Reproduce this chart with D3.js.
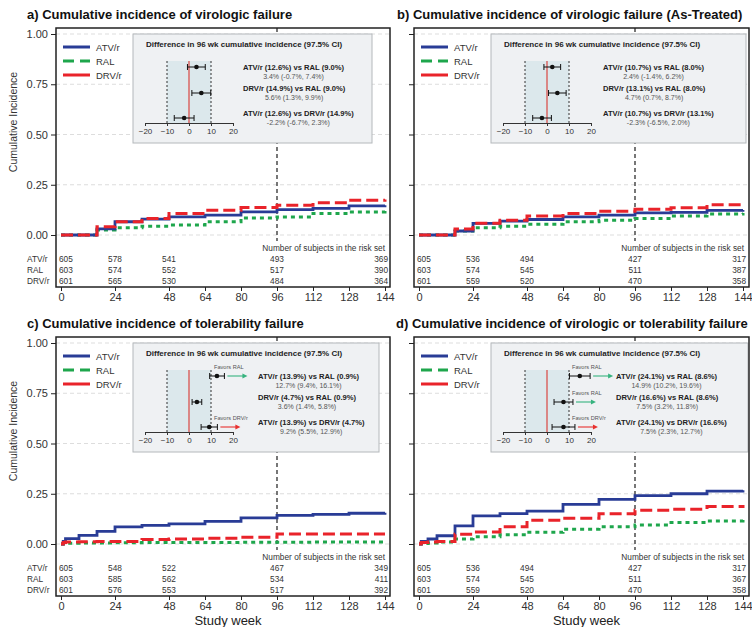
<!DOCTYPE html>
<html>
<head>
<meta charset="utf-8">
<script src="https://cdn.jsdelivr.net/npm/d3@7"></script>
<style>
  body { margin: 0; background: #fff; }
  text { font-family: "Liberation Sans", Arial, sans-serif; }
</style>
</head>
<body>
<div id="chart-area"></div>
<script>
// ---- data ----
var groups = ["ATV/r", "RAL", "DRV/r"];
var weekTicks = [0, 24, 48, 64, 80, 96, 112, 128, 144];
var riskWeeks = [0, 24, 48, 96, 144];
var yTicks = [0, 0.25, 0.5, 0.75, 1];

// panel a) virologic failure
var aWeeks = [0, 16, 24, 36, 48, 64, 80, 96, 112, 128, 144];
var aATV = [0, 0.03, 0.066, 0.079, 0.09, 0.099, 0.115, 0.126, 0.132, 0.145, 0.148];
var aRAL = [0, 0.025, 0.036, 0.044, 0.05, 0.066, 0.085, 0.09, 0.107, 0.115, 0.125];
var aDRV = [0, 0.041, 0.066, 0.082, 0.107, 0.123, 0.137, 0.148, 0.16, 0.173, 0.176];
var aRisk = [[605, 578, 541, 493, 369], [603, 574, 552, 517, 390], [601, 565, 530, 484, 364]];
var aCompare = ["ATV/r (12.6%) vs RAL (9.0%)", "DRV/r (14.9%) vs RAL (9.0%)", "ATV/r (12.6%) vs DRV/r (14.9%)"];
var aEst = [3.4, 5.6, -2.2];
var aLo = [-0.7, 1.3, -6.7];
var aHi = [7.4, 9.9, 2.3];
var aFavors = [null, null, null];

// panel b) virologic failure, as-treated
var bWeeks = [0, 16, 24, 36, 48, 64, 80, 96, 112, 128, 144];
var bATV = [0, 0.02, 0.058, 0.069, 0.077, 0.09, 0.099, 0.11, 0.113, 0.123, 0.125];
var bRAL = [0, 0.02, 0.036, 0.044, 0.053, 0.066, 0.074, 0.082, 0.095, 0.104, 0.11];
var bDRV = [0, 0.03, 0.058, 0.074, 0.094, 0.107, 0.118, 0.128, 0.136, 0.151, 0.16];
var bRisk = [[605, 536, 494, 427, 317], [603, 574, 545, 511, 387], [601, 559, 520, 470, 358]];
var bCompare = ["ATV/r (10.7%) vs RAL (8.0%)", "DRV/r (13.1%) vs RAL (8.0%)", "ATV/r (10.7%) vs DRV/r (13.1%)"];
var bEst = [2.4, 4.7, -2.3];
var bLo = [-1.4, 0.7, -6.5];
var bHi = [6.2, 8.7, 2.0];
var bFavors = [null, null, null];

// panel c) tolerability failure
var cWeeks = [0, 1, 2, 8, 16, 24, 36, 48, 64, 80, 96, 112, 128, 144];
var cATV = [0, 0.013, 0.027, 0.043, 0.063, 0.085, 0.093, 0.1, 0.113, 0.13, 0.142, 0.147, 0.153, 0.155];
var cRAL = [0, 0.003, 0.004, 0.005, 0.005, 0.006, 0.007, 0.008, 0.008, 0.009, 0.009, 0.01, 0.01, 0.01];
var cDRV = [0, 0.008, 0.01, 0.011, 0.012, 0.013, 0.022, 0.025, 0.028, 0.033, 0.05, 0.05, 0.05, 0.05];
var cRisk = [[605, 548, 522, 467, 349], [603, 585, 562, 534, 411], [601, 576, 553, 517, 392]];
var cCompare = ["ATV/r (13.9%) vs RAL (0.9%)", "DRV/r (4.7%) vs RAL (0.9%)", "ATV/r (13.9%) vs DRV/r (4.7%)"];
var cEst = [12.7, 3.6, 9.2];
var cLo = [9.4, 1.4, 5.5];
var cHi = [16.1, 5.8, 12.9];
var cFavors = ["RAL", null, "DRV/r"];

// panel d) virologic or tolerability failure
var dWeeks = [0, 1, 4, 8, 16, 24, 36, 48, 64, 80, 96, 112, 128, 144];
var dATV = [0, 0.013, 0.025, 0.041, 0.09, 0.14, 0.151, 0.164, 0.197, 0.222, 0.241, 0.25, 0.263, 0.268];
var dRAL = [0, 0.003, 0.005, 0.01, 0.025, 0.036, 0.046, 0.058, 0.074, 0.086, 0.095, 0.107, 0.115, 0.132];
var dDRV = [0, 0.008, 0.01, 0.013, 0.049, 0.06, 0.086, 0.118, 0.128, 0.151, 0.168, 0.173, 0.186, 0.194];
var dRisk = [[605, 536, 494, 427, 317], [603, 574, 545, 511, 367], [601, 559, 520, 470, 358]];
var dCompare = ["ATV/r (24.1%) vs RAL (8.6%)", "DRV/r (16.6%) vs RAL (8.6%)", "ATV/r (24.1%) vs DRV/r (16.6%)"];
var dEst = [14.9, 7.5, 7.5];
var dLo = [10.2, 3.2, 2.3];
var dHi = [19.6, 11.8, 12.7];
var dFavors = ["RAL", "RAL", "DRV/r"];

// ---- styles ----
var colors = {"ATV/r": "#293c96", "RAL": "#1ea64c", "DRV/r": "#e9232a"};
var curveDash = {"ATV/r": null, "RAL": "4,4", "DRV/r": "12,5"};
var curveWidth = {"ATV/r": 2.8, "RAL": 3, "DRV/r": 3};
var legendDash = {"ATV/r": null, "RAL": "11,6", "DRV/r": null};
var favorColor = {"RAL": "#36b37e", "DRV/r": "#e8312f"};

var svg = d3.select("#chart-area")
  .append("svg")
    .attr("width", 752)
    .attr("height", 627);

svg.append("rect").attr("width", 752).attr("height", 627).attr("fill", "#fff");

var panels = [
  {title: "a) Cumulative incidence of virologic failure", left: 56, top: 28, right: 390, titleX: 27,
   yLabels: true, studyWeek: false,
   weeks: aWeeks, series: [aATV, aRAL, aDRV], risk: aRisk, compare: aCompare, est: aEst, lo: aLo, hi: aHi, favors: aFavors,
   boxW: 239, labelX: 110},
  {title: "b) Cumulative incidence of virologic failure (As-Treated)", left: 414, top: 28, right: 749, titleX: 397,
   yLabels: false, studyWeek: false,
   weeks: bWeeks, series: [bATV, bRAL, bDRV], risk: bRisk, compare: bCompare, est: bEst, lo: bLo, hi: bHi, favors: bFavors,
   boxW: 255, labelX: 112},
  {title: "c) Cumulative incidence of tolerability failure", left: 56, top: 337, right: 390, titleX: 27,
   yLabels: true, studyWeek: true,
   weeks: cWeeks, series: [cATV, cRAL, cDRV], risk: cRisk, compare: cCompare, est: cEst, lo: cLo, hi: cHi, favors: cFavors,
   boxW: 246, labelX: 125},
  {title: "d) Cumulative incidence of virologic or tolerability failure", left: 414, top: 337, right: 749, titleX: 396,
   yLabels: false, studyWeek: true,
   weeks: dWeeks, series: [dATV, dRAL, dDRV], risk: dRisk, compare: dCompare, est: dEst, lo: dLo, hi: dHi, favors: dFavors,
   boxW: 257, labelX: 125}
];

function pct(v) { return v.toFixed(1) + "%"; }

panels.forEach(function(p) {
  var L = p.left, T = p.top, R = p.right, B = T + 259;
  var g = svg.append("g");

  var x = d3.scaleLinear().domain([0, 144]).range([L + 5, L + 329]);
  var y = d3.scaleLinear().domain([0, 1]).range([T + 207, T + 6]);

  // title
  g.append("text")
    .attr("x", p.titleX).attr("y", T - 9)
    .attr("font-size", "13px").attr("font-weight", "bold").attr("fill", "#111")
    .text(p.title);

  // grid
  g.selectAll(".grid").data(yTicks).enter()
    .append("line")
      .attr("x1", L).attr("x2", R)
      .attr("y1", function(d) { return y(d); })
      .attr("y2", function(d) { return y(d); })
      .attr("stroke", "#d4d4d4").attr("stroke-width", 0.8)
      .attr("stroke-dasharray", "4,3");

  // week 96 reference line
  g.append("line")
    .attr("x1", x(96)).attr("x2", x(96))
    .attr("y1", T).attr("y2", y(0) + 6)
    .attr("stroke", "#555").attr("stroke-width", 1.6)
    .attr("stroke-dasharray", "4,3");

  // step curves (red drawn last, on top)
  var line = d3.line()
    .x(function(d) { return x(d[0]); })
    .y(function(d) { return y(d[1]); })
    .curve(d3.curveStepAfter);

  [1, 0, 2].forEach(function(i) {
    var name = groups[i];
    var pts = p.weeks.map(function(w, k) { return [w, p.series[i][k]]; });
    g.append("path")
      .attr("d", line(pts))
      .attr("fill", "none")
      .attr("stroke", colors[name])
      .attr("stroke-width", curveWidth[name])
      .attr("stroke-dasharray", curveDash[name]);
  });

  // legend
  groups.forEach(function(name, i) {
    var ly = T + 19 + i * 14;
    g.append("line")
      .attr("x1", L + 7).attr("x2", L + 34)
      .attr("y1", ly).attr("y2", ly)
      .attr("stroke", colors[name]).attr("stroke-width", 3)
      .attr("stroke-dasharray", legendDash[name]);
    g.append("text")
      .attr("x", L + 40).attr("y", ly + 3.5)
      .attr("font-size", "9.5px").attr("fill", "#333")
      .text(name);
  });

  // inset with differences at week 96
  var bx = L + 77, by = T + 6, bw = p.boxW, bh = 109;
  var inset = g.append("g");
  inset.append("rect")
    .attr("x", bx).attr("y", by).attr("width", bw).attr("height", bh)
    .attr("fill", "#eff1f3").attr("stroke", "#b4b8bb").attr("stroke-width", 1);
  inset.append("text")
    .attr("x", bx + 13).attr("y", by + 13)
    .attr("font-size", "8px").attr("font-weight", "bold").attr("fill", "#222")
    .text("Difference in 96 wk cumulative incidence (97.5% CI)");

  var xf = d3.scaleLinear().domain([-20, 20]).range([bx + 12, bx + 100]);
  var fTop = by + 27, fAxis = by + 89;
  inset.append("rect")
    .attr("x", xf(-10)).attr("y", fTop)
    .attr("width", xf(10) - xf(-10)).attr("height", fAxis - fTop)
    .attr("fill", "#dce8ec");
  [-10, 10].forEach(function(v) {
    inset.append("line")
      .attr("x1", xf(v)).attr("x2", xf(v)).attr("y1", fTop).attr("y2", fAxis)
      .attr("stroke", "#333").attr("stroke-width", 1).attr("stroke-dasharray", "2,2");
  });
  inset.append("line")
    .attr("x1", xf(0)).attr("x2", xf(0)).attr("y1", fTop).attr("y2", fAxis)
    .attr("stroke", "#d9534f").attr("stroke-width", 1.3);

  var fAxisG = inset.append("g")
    .attr("transform", "translate(0," + fAxis + ")")
    .call(d3.axisBottom(xf).tickValues([-20, -10, 0, 10, 20]).tickSize(3).tickPadding(2));
  fAxisG.select(".domain").attr("stroke", "#333");
  fAxisG.selectAll("line").attr("stroke", "#333");
  fAxisG.selectAll("text").attr("font-size", "8px").attr("fill", "#333")
    .attr("font-family", "'Liberation Sans', Arial, sans-serif");

  var rowY = [by + 33, by + 59, by + 84];
  var boldY = [by + 36, by + 57, by + 82];
  p.est.forEach(function(e, i) {
    var ry = rowY[i];
    inset.append("line")
      .attr("x1", xf(p.lo[i])).attr("x2", xf(p.hi[i])).attr("y1", ry).attr("y2", ry)
      .attr("stroke", "#111").attr("stroke-width", 1);
    [p.lo[i], p.hi[i]].forEach(function(v) {
      inset.append("line")
        .attr("x1", xf(v)).attr("x2", xf(v)).attr("y1", ry - 3).attr("y2", ry + 3)
        .attr("stroke", "#111").attr("stroke-width", 1);
    });
    inset.append("circle")
      .attr("cx", xf(e)).attr("cy", ry).attr("r", 2.3).attr("fill", "#111");

    if (p.favors[i]) {
      var ax0 = xf(p.hi[i]) + 3, ax1 = ax0 + 20;
      inset.append("line")
        .attr("x1", ax0).attr("x2", ax1 - 4).attr("y1", ry).attr("y2", ry)
        .attr("stroke", favorColor[p.favors[i]]).attr("stroke-width", 1.1);
      inset.append("path")
        .attr("d", "M" + ax1 + "," + ry + "L" + (ax1 - 5) + "," + (ry - 2.5) + "L" + (ax1 - 5) + "," + (ry + 2.5) + "Z")
        .attr("fill", favorColor[p.favors[i]]);
      inset.append("text")
        .attr("x", xf(10) + 3).attr("y", ry - 7)
        .attr("font-size", "5.6px").attr("fill", "#555")
        .text("Favors " + p.favors[i]);
    }

    var bold = inset.append("text")
      .attr("x", bx + p.labelX).attr("y", boldY[i])
      .attr("font-size", "7.6px").attr("font-weight", "bold").attr("fill", "#222")
      .text(p.compare[i]);
    var bwid = bold.node().getComputedTextLength();
    inset.append("text")
      .attr("x", bx + p.labelX + bwid / 2).attr("y", boldY[i] + 8.5)
      .attr("text-anchor", "middle")
      .attr("font-size", "7px").attr("fill", "#555")
      .text(pct(e) + " (" + pct(p.lo[i]) + ", " + pct(p.hi[i]) + ")");
  });

  // risk table
  g.append("text")
    .attr("x", R - 5).attr("y", y(0) + 16)
    .attr("text-anchor", "end")
    .attr("font-size", "8.3px").attr("fill", "#333")
    .text("Number of subjects in the risk set");
  groups.forEach(function(name, i) {
    var ty = y(0) + 27 + i * 11;
    if (p.yLabels) {
      g.append("text")
        .attr("x", L - 29).attr("y", ty)
        .attr("font-size", "8.3px").attr("fill", "#333")
        .text(name);
    }
    p.risk[i].forEach(function(n, k) {
      var w = riskWeeks[k];
      var anchor = k === 0 ? "start" : (k === riskWeeks.length - 1 ? "end" : "middle");
      var tx = k === 0 ? x(w) - 2 : (k === riskWeeks.length - 1 ? x(w) + 3 : x(w));
      g.append("text")
        .attr("x", tx).attr("y", ty)
        .attr("text-anchor", anchor)
        .attr("font-size", "8.3px").attr("fill", "#333")
        .text(n);
    });
  });

  // axes
  var yAxis = g.append("g")
    .attr("transform", "translate(" + L + ",0)")
    .call(d3.axisLeft(y).tickValues(yTicks).tickSize(5).tickPadding(3)
      .tickFormat(p.yLabels ? d3.format(".2f") : ""));
  yAxis.select(".domain").remove();
  yAxis.selectAll("line").attr("stroke", "#222");
  yAxis.selectAll("text").attr("font-size", "11px").attr("fill", "#333")
    .attr("font-family", "'Liberation Sans', Arial, sans-serif");

  var xAxis = g.append("g")
    .attr("transform", "translate(0," + B + ")")
    .call(d3.axisBottom(x).tickValues(weekTicks).tickSize(4).tickPadding(2));
  xAxis.select(".domain").remove();
  xAxis.selectAll("line").attr("stroke", "#222");
  xAxis.selectAll("text").attr("font-size", "11px").attr("fill", "#333")
    .attr("font-family", "'Liberation Sans', Arial, sans-serif");

  // frame
  g.append("rect")
    .attr("x", L).attr("y", T).attr("width", R - L).attr("height", B - T)
    .attr("fill", "none").attr("stroke", "#222").attr("stroke-width", 1.5);

  if (p.yLabels) {
    g.append("text")
      .attr("transform", "translate(17," + (T + 94) + ") rotate(-90)")
      .attr("text-anchor", "middle")
      .attr("font-size", "10.5px").attr("fill", "#333")
      .text("Cumulative Incidence");
  }
  if (p.studyWeek) {
    g.append("text")
      .attr("x", (L + R) / 2 + 5).attr("y", B + 29)
      .attr("text-anchor", "middle")
      .attr("font-size", "13px").attr("fill", "#222")
      .text("Study week");
  }
});
</script>
</body>
</html>
